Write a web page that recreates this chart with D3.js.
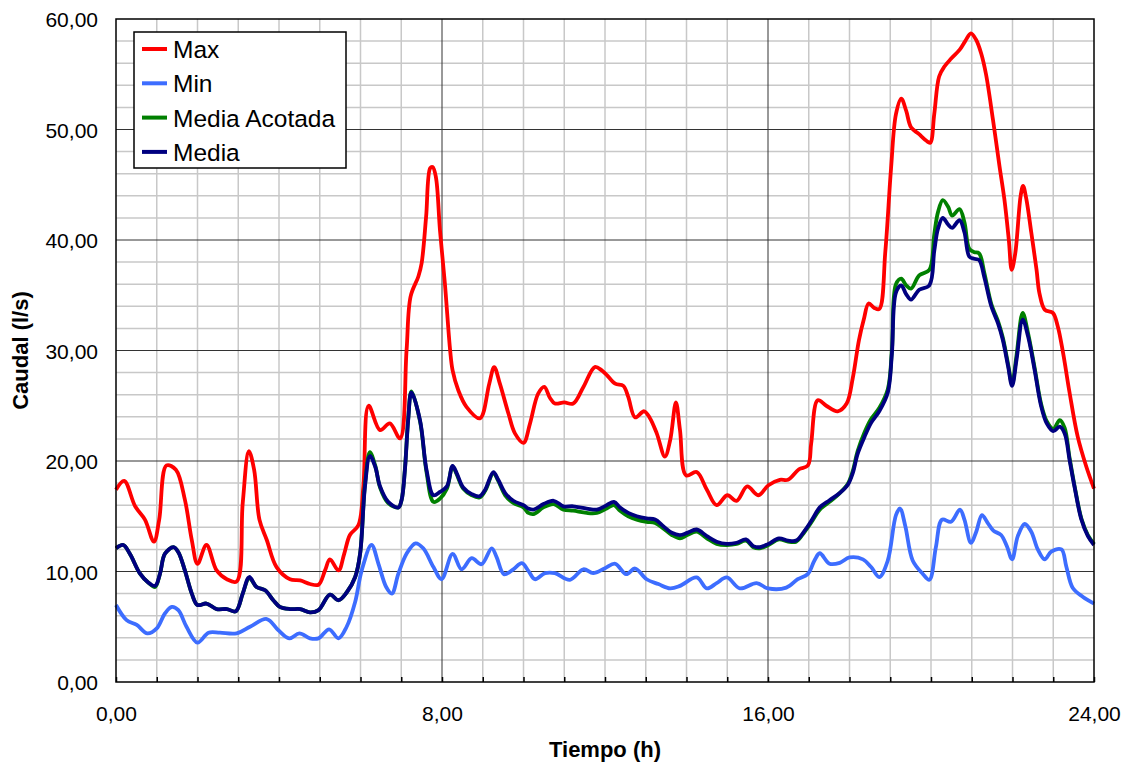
<!DOCTYPE html>
<html>
<head>
<meta charset="utf-8">
<script src="https://cdn.jsdelivr.net/npm/d3@7"></script>
<style>
  body { margin: 0; background: #fff; }
  #chart { width: 1130px; height: 769px; }
  text { font-family: Arial, "Liberation Sans", sans-serif; fill: #000; }
  .axis path { display: none; }
  .axis text { font-size: 21px; }
  .axis-title { font-size: 22px; font-weight: bold; }
  .legend text { font-size: 24.5px; }
</style>
</head>
<body>
<div id="chart"></div>
<script>
const svgWidth = 1130;
const svgHeight = 769;
const margin = { top: 19, left: 116, right: 36, bottom: 87 };
const width = svgWidth - margin.left - margin.right;
const height = svgHeight - margin.top - margin.bottom;

// series names and colours (legend order)
const seriesNames = ['Max', 'Min', 'Media Acotada', 'Media'];
const seriesColors = ['#ff0000', '#3d6dff', '#008000', '#000080'];

// x tick labels (hours) and y tick labels
const xLabelTicks = [0, 8, 16, 24];
const yLabelTicks = [0, 10, 20, 30, 40, 50, 60];

// Max: [hour, l/s]
const maxSeries = [
  [0, 17.4], [0.2, 18.2], [0.47, 15.9], [0.71, 14.7], [0.93, 12.7], [1.06, 14.7], [1.24, 19.6], [1.47, 19.2],
  [1.69, 16.5], [1.86, 12.85], [2.0, 10.7], [2.22, 12.4], [2.47, 10.1], [2.72, 9.3], [2.96, 9.1], [3.11, 16.2],
  [3.26, 20.9], [3.39, 19.2], [3.52, 14.7], [3.7, 12.85], [3.94, 10.4], [4.27, 9.3], [4.52, 9.2], [4.76, 8.87],
  [4.97, 8.8], [5.13, 10.1], [5.25, 11.1], [5.46, 10.1], [5.6, 11.6], [5.74, 13.3], [5.95, 14.2], [6.07, 17.7],
  [6.2, 25.0], [6.48, 22.8], [6.72, 23.4], [6.97, 22.05], [7.13, 30.0], [7.23, 34.9], [7.42, 36.7], [7.5, 37.9],
  [7.61, 42.1], [7.71, 46.5], [7.77, 46.6], [7.85, 45.7], [7.95, 40.9], [8.07, 36.1], [8.2, 30.0], [8.26, 28.2],
  [8.4, 26.4], [8.6, 24.9], [8.93, 23.86], [9.16, 27.0], [9.28, 28.5], [9.42, 27.0], [9.63, 24.3], [9.79, 22.5],
  [10.0, 21.65], [10.16, 23.4], [10.36, 26.1], [10.51, 26.7], [10.65, 25.7], [10.77, 25.2], [11.0, 25.3],
  [11.22, 25.2], [11.47, 26.7], [11.75, 28.5], [11.92, 28.2], [12.04, 27.8], [12.25, 27.0], [12.45, 26.8],
  [12.57, 25.8], [12.74, 23.95], [12.96, 24.5], [13.1, 23.9], [13.27, 22.5], [13.47, 20.4], [13.6, 21.9],
  [13.74, 25.3], [13.84, 22.8], [13.99, 18.7], [14.25, 19.0], [14.5, 17.4], [14.74, 16.0], [15.0, 16.9],
  [15.23, 16.4], [15.49, 17.7], [15.76, 16.9], [16.01, 17.8], [16.29, 18.3], [16.49, 18.3], [16.76, 19.25],
  [16.98, 19.6], [17.06, 21.6], [17.22, 25.5], [17.43, 25.0], [17.71, 24.5], [17.93, 25.2], [18.08, 27.5],
  [18.23, 30.9], [18.35, 32.8], [18.47, 34.25], [18.61, 33.85], [18.73, 33.75], [18.88, 39.0], [19.02, 46.5],
  [19.14, 51.4], [19.27, 52.8], [19.39, 51.7], [19.51, 50.2], [19.7, 49.6], [19.88, 49.0], [19.98, 48.8],
  [20.08, 51.4], [20.2, 54.8], [20.33, 55.7], [20.49, 56.4], [20.7, 57.2], [20.84, 58.0], [20.98, 58.7],
  [21.11, 58.1], [21.23, 56.9], [21.35, 55.0], [21.52, 50.9], [21.68, 46.7], [21.8, 43.7], [21.91, 40.0],
  [21.98, 37.3], [22.07, 38.85], [22.2, 44.0], [22.26, 44.9], [22.34, 43.7], [22.46, 40.7], [22.59, 37.3],
  [22.66, 35.2], [22.79, 33.7], [22.99, 33.4], [23.11, 32.2], [23.24, 29.8], [23.4, 26.2], [23.6, 22.2],
  [23.81, 19.5], [24, 17.5]
];

// Min: [hour, l/s]
const minSeries = [
  [0, 6.97], [0.26, 5.6], [0.51, 5.16], [0.77, 4.4], [1.0, 4.86], [1.2, 6.2], [1.37, 6.8], [1.53, 6.5],
  [1.73, 5.0], [2.0, 3.56], [2.27, 4.46], [2.55, 4.46], [2.96, 4.4], [3.29, 5.0], [3.7, 5.7], [3.98, 4.7],
  [4.25, 3.95], [4.5, 4.4], [4.76, 3.95], [4.97, 3.95], [5.23, 4.77], [5.46, 3.95], [5.66, 5.0], [5.87, 7.27],
  [6.03, 10.1], [6.27, 12.4], [6.44, 10.7], [6.63, 8.6], [6.77, 8.0], [6.93, 9.8], [7.13, 11.6], [7.35, 12.55],
  [7.54, 12.1], [7.79, 10.4], [7.99, 9.3], [8.26, 11.6], [8.48, 10.2], [8.73, 11.2], [8.97, 10.66], [9.22, 12.1],
  [9.34, 11.3], [9.52, 9.76], [9.75, 10.2], [9.96, 10.75], [10.12, 10.06], [10.28, 9.3], [10.53, 9.85],
  [10.77, 9.85], [11.14, 9.25], [11.47, 10.2], [11.71, 9.85], [12.0, 10.3], [12.25, 10.7], [12.52, 9.76],
  [12.74, 10.27], [13.02, 9.3], [13.31, 8.86], [13.6, 8.47], [13.84, 8.7], [14.25, 9.46], [14.5, 8.47],
  [14.74, 8.95], [14.99, 9.46], [15.31, 8.47], [15.72, 8.95], [16.0, 8.47], [16.45, 8.54], [16.73, 9.3],
  [16.98, 9.78], [17.14, 11.0], [17.27, 11.65], [17.51, 10.7], [17.76, 10.78], [18.0, 11.27], [18.33, 11.1],
  [18.53, 10.4], [18.73, 9.5], [18.94, 11.0], [19.14, 15.1], [19.24, 15.7], [19.37, 14.1], [19.55, 11.0],
  [19.8, 9.78], [19.96, 9.25], [20.12, 12.2], [20.27, 14.7], [20.49, 14.5], [20.71, 15.6], [20.82, 14.7],
  [20.98, 12.6], [21.11, 13.6], [21.25, 15.1], [21.39, 14.4], [21.53, 13.7], [21.72, 13.3], [21.86, 12.3],
  [21.99, 11.1], [22.13, 13.2], [22.3, 14.3], [22.46, 13.6], [22.62, 12.0], [22.79, 11.1], [22.95, 11.8],
  [23.2, 12.0], [23.32, 10.45], [23.48, 8.5], [23.73, 7.7], [24, 7.1]
];

// Media and Media Acotada share the same hours
const mediaHours = [
  0, 0.18, 0.34, 0.59, 0.79, 0.96, 1.08, 1.2, 1.41, 1.53, 1.69, 1.86, 2.0, 2.22, 2.47, 2.72, 2.94, 3.11, 3.27,
  3.45, 3.66, 3.86, 4.02, 4.27, 4.52, 4.76, 4.97, 5.25, 5.46, 5.66, 5.87, 5.99, 6.11, 6.23, 6.36, 6.48, 6.68,
  6.93, 7.01, 7.09, 7.17, 7.25, 7.46, 7.62, 7.79, 7.95, 8.12, 8.26, 8.36, 8.52, 8.73, 8.92, 9.06, 9.26, 9.38,
  9.55, 9.75, 10.0, 10.12, 10.25, 10.49, 10.74, 10.98, 11.22, 11.55, 11.8, 12.04, 12.22, 12.37, 12.57, 12.78,
  13.02, 13.23, 13.43, 13.64, 13.84, 14.02, 14.25, 14.5, 14.74, 14.99, 15.23, 15.46, 15.64, 15.8, 16.01, 16.27,
  16.49, 16.69, 16.9, 17.09, 17.27, 17.51, 17.76, 17.96, 18.08, 18.2, 18.37, 18.53, 18.73, 18.94, 19.04, 19.14,
  19.27, 19.39, 19.51, 19.71, 19.96, 20.08, 20.17, 20.29, 20.42, 20.52, 20.7, 20.82, 20.94, 21.06, 21.18,
  21.31, 21.48, 21.64, 21.76, 21.89, 21.99, 22.1, 22.25, 22.38, 22.54, 22.7, 22.84, 23.0, 23.16, 23.28, 23.4,
  23.52, 23.69, 23.85, 24
];
const mediaValues = [
  12.1, 12.4, 11.6, 9.8, 9.0, 8.7, 9.8, 11.6, 12.2, 11.75, 10.1, 8.0, 6.97, 7.1, 6.6, 6.6, 6.4, 8.0, 9.5,
  8.6, 8.3, 7.4, 6.8, 6.6, 6.6, 6.3, 6.5, 7.9, 7.4, 8.1, 9.5, 11.6, 17.7, 20.45, 19.5, 17.7, 16.3,
  15.8, 16.5, 19.2, 23.7, 26.2, 23.7, 19.2, 16.9, 17.2, 17.7, 19.55, 18.9, 17.6, 17.0, 16.8, 17.4, 19.0, 18.3,
  17.1, 16.4, 16.0, 15.7, 15.6, 16.1, 16.4, 15.9, 15.9, 15.7, 15.6, 16.0, 16.3, 15.8, 15.3, 15.0,
  14.8, 14.7, 14.1, 13.5, 13.3, 13.5, 13.8, 13.2, 12.7, 12.5, 12.6, 12.9, 12.3, 12.2, 12.5, 13.0,
  12.8, 12.8, 13.7, 14.75, 15.8, 16.45, 17.1, 17.85, 18.9, 20.65, 22.2, 23.45, 24.5, 26.2, 29.7, 35.25,
  35.9, 35.1, 34.6, 35.5, 35.9, 39.0, 41.0, 42.0, 41.4, 41.1, 41.8, 40.7, 38.5, 38.3, 38.2,
  36.6, 34.0, 32.5, 31.0, 28.6, 26.8, 29.2, 32.8, 31.3, 28.3, 25.0, 23.4, 22.7, 23.1, 22.5, 20.1,
  17.7, 14.7, 13.2, 12.4
];
const acotadaValues = [
  12.1, 12.4, 11.6, 9.8, 9.0, 8.6, 9.8, 11.6, 12.2, 11.75, 10.1, 8.0, 6.97, 7.1, 6.6, 6.6, 6.4, 8.0, 9.4,
  8.6, 8.3, 7.4, 6.8, 6.6, 6.6, 6.3, 6.5, 7.9, 7.4, 8.1, 9.5, 11.6, 17.9, 20.8, 19.6, 17.6, 16.2,
  15.8, 16.5, 19.3, 23.8, 26.3, 23.6, 19.0, 16.3, 16.6, 17.5, 19.5, 18.8, 17.5, 16.9, 16.7, 17.3, 18.9, 18.2,
  16.9, 16.2, 15.8, 15.3, 15.2, 15.8, 16.1, 15.6, 15.5, 15.3, 15.3, 15.7, 16.0, 15.5, 15.0, 14.7,
  14.5, 14.4, 13.9, 13.3, 13.0, 13.3, 13.6, 13.0, 12.5, 12.4, 12.5, 12.8, 12.2, 12.1, 12.4, 12.9,
  12.7, 12.7, 13.6, 14.6, 15.6, 16.3, 17.1, 17.95, 19.1, 20.9, 22.6, 23.8, 24.8, 26.5, 30.0, 36.0,
  36.5, 35.9, 35.6, 36.8, 37.3, 40.5, 42.5, 43.6, 43.0, 42.2, 42.8, 41.6, 39.2, 38.9, 38.8,
  37.0, 34.2, 32.7, 31.2, 28.8, 27.0, 29.6, 33.4, 31.6, 28.5, 25.2, 23.6, 22.9, 23.7, 23.0, 20.3,
  17.8, 14.8, 13.3, 12.5
];

const numLocale = d3.formatLocale({ decimal: ',', thousands: '.', grouping: [3], currency: ['', ' €'] });
const fmt = numLocale.format('.2f');

const svg = d3.select('#chart')
    .append('svg')
    .attr('width', svgWidth)
    .attr('height', svgHeight)
    .append('g')
    .attr('transform', `translate(${margin.left}, ${margin.top})`);

const x = d3.scaleLinear().domain([0, 24]).range([0, width]);
const y = d3.scaleLinear().domain([0, 60]).range([height, 0]);

// grid: minor every hour / 2 l/s, major every 8 h / 10 l/s
const grid = svg.append('g').attr('class', 'grid');
grid.selectAll('.vminor')
    .data(d3.range(1, 24).filter(h => h % 8 !== 0))
    .enter().append('line')
    .attr('x1', d => x(d)).attr('x2', d => x(d))
    .attr('y1', 0).attr('y2', height)
    .style('stroke', '#c8c8c8').style('stroke-width', 1.5);
grid.selectAll('.hminor')
    .data(d3.range(2, 60, 2).filter(v => v % 10 !== 0))
    .enter().append('line')
    .attr('x1', 0).attr('x2', width)
    .attr('y1', d => y(d)).attr('y2', d => y(d))
    .style('stroke', '#c8c8c8').style('stroke-width', 1.5);
grid.selectAll('.vmajor')
    .data([8, 16])
    .enter().append('line')
    .attr('x1', d => x(d)).attr('x2', d => x(d))
    .attr('y1', 0).attr('y2', height)
    .style('stroke', '#333').style('stroke-width', 1);
grid.selectAll('.hmajor')
    .data([10, 20, 30, 40, 50])
    .enter().append('line')
    .attr('x1', 0).attr('x2', width)
    .attr('y1', d => y(d)).attr('y2', d => y(d))
    .style('stroke', '#333').style('stroke-width', 1);

// small inside ticks on the x axis every hour
svg.append('g')
    .attr('class', 'axis')
    .attr('transform', `translate(0, ${height})`)
    .call(d3.axisBottom(x).tickValues(d3.range(0, 25)).tickSize(-5).tickFormat(''))
    .selectAll('line').style('stroke', '#000').style('stroke-width', 1.5);

// tick labels
svg.append('g')
    .attr('class', 'axis')
    .attr('transform', `translate(0, ${height})`)
    .call(d3.axisBottom(x).tickValues(xLabelTicks).tickSize(0).tickPadding(24).tickFormat(fmt));

svg.append('g')
    .attr('class', 'axis')
    .call(d3.axisLeft(y).tickValues(yLabelTicks).tickSize(0).tickPadding(18).tickFormat(fmt))
    .selectAll('text').attr('dy', '0.36em');

// lines
const line = d3.line()
    .x(d => x(d[0]))
    .y(d => y(d[1]))
    .curve(d3.curveCatmullRom.alpha(0.5));

const seriesData = [
  maxSeries,
  minSeries,
  mediaHours.map((h, i) => [h, acotadaValues[i]]),
  mediaHours.map((h, i) => [h, mediaValues[i]])
];

svg.append('g').attr('class', 'lines')
    .selectAll('path')
    .data(seriesData)
    .enter().append('path')
    .attr('d', line)
    .style('fill', 'none')
    .style('stroke', (d, i) => seriesColors[i])
    .style('stroke-width', 3.8)
    .style('stroke-linejoin', 'round');

// plot frame
svg.append('rect')
    .attr('width', width).attr('height', height)
    .style('fill', 'none').style('stroke', '#000').style('stroke-width', 1.5);

// axis titles
svg.append('text').attr('class', 'axis-title')
    .attr('x', width / 2).attr('y', height + 75)
    .style('text-anchor', 'middle')
    .text('Tiempo (h)');

svg.append('text').attr('class', 'axis-title')
    .attr('transform', `translate(${28 - margin.left}, ${height / 2}) rotate(-90)`)
    .style('text-anchor', 'middle')
    .text('Caudal (l/s)');

// legend
const legend = svg.append('g').attr('class', 'legend')
    .attr('transform', `translate(${134 - margin.left}, ${32 - margin.top})`);

legend.append('rect')
    .attr('width', 212).attr('height', 136)
    .style('fill', '#fff').style('stroke', '#000').style('stroke-width', 1.5);

const legendItem = legend.selectAll('.item')
    .data(seriesNames)
    .enter().append('g')
    .attr('class', 'item')
    .attr('transform', (d, i) => `translate(0, ${17 + i * 34.3})`);

legendItem.append('line')
    .attr('x1', 8).attr('x2', 33)
    .style('stroke', (d, i) => seriesColors[i])
    .style('stroke-width', 4);

legendItem.append('text')
    .attr('x', 39).attr('y', 9)
    .text(d => d);
</script>
</body>
</html>
